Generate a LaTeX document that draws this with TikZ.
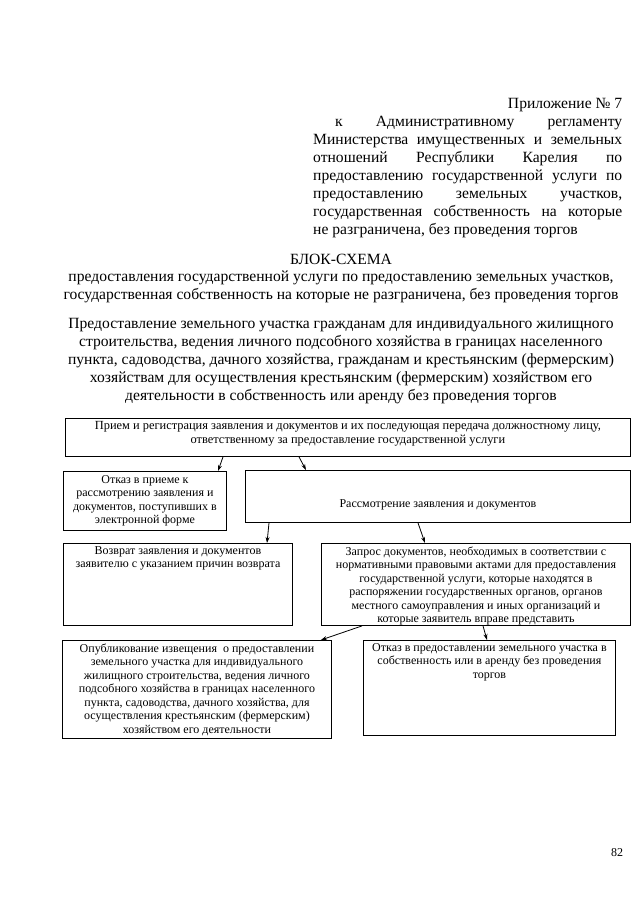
\documentclass[tikz,border=0pt]{standalone}
\usepackage{fontspec}
\setmainfont{Liberation Serif}
\usetikzlibrary{arrows.meta,positioning,calc}
\newcommand{\boxtext}[4][t]{\parbox[t][#3][#1]{#2}{\centering #4}}
\tikzset{
  blk/.style={rectangle,draw,line width=0.9pt,anchor=north west,inner sep=3pt,font=\fontsize{12}{13.5}\selectfont},
  hdr/.style={inner sep=0pt,font=\fontsize{15.6}{17.9}\selectfont},
  arr/.style={-{Stealth[length=6pt,width=4pt]},line width=0.8pt}
}
\begin{document}
\begin{tikzpicture}[x=1pt,y=-1pt]
  \useasboundingbox (0,0) rectangle (640,905);
  % header
  \node[hdr,anchor=north west,align=left] (appx) at (313,98.5) {%
    \makebox[309pt][r]{Приложение № 7}\\
    \makebox[309pt][s]{\hspace*{22pt}к\hfill Административному\hfill регламенту}\\
    \makebox[309pt][s]{Министерства имущественных и земельных}\\
    \makebox[309pt][s]{отношений\hfill Республики\hfill Карелия\hfill по}\\
    \makebox[309pt][s]{предоставлению государственной услуги по}\\
    \makebox[309pt][s]{предоставлению\hfill земельных\hfill участков,}\\
    \makebox[309pt][s]{государственная собственность на которые}\\
    не разграничена, без проведения торгов};
  \node[hdr,anchor=north,align=center] (title) at (341,253.5) {БЛОК-СХЕМА\\
    предоставления государственной услуги по предоставлению земельных участков,\\
    государственная собственность на которые не разграничена, без проведения торгов};
  \node[hdr,anchor=north,align=center] (subj) at (341,318.5) {Предоставление земельного участка гражданам для индивидуального жилищного\\
    строительства, ведения личного подсобного хозяйства в границах населенного\\
    пункта, садоводства, дачного хозяйства, гражданам и крестьянским (фермерским)\\
    хозяйствам для осуществления крестьянским (фермерским) хозяйством его\\
    деятельности в собственность или аренду без проведения торгов};
  % boxes
  \node[blk,font=\fontsize{12.4}{13.8}\selectfont] (recv) at (65,418) {\boxtext{559pt}{32pt}{Прием и регистрация заявления и документов и их последующая передача должностному лицу,\\ ответственному за предоставление государственной услуги}};
  \node[blk] (refuse) at (63,471) {\boxtext[c]{157pt}{53pt}{Отказ в приеме к\\ рассмотрению заявления и\\ документов, поступивших в\\ электронной форме}};
  \node[blk] (review) at (245,470) {\boxtext[c]{379pt}{46pt}{\vspace*{16pt}Рассмотрение заявления и документов}};
  \node[blk] (ret) at (63,543) {\boxtext{223pt}{76pt}{Возврат заявления и документов\\ заявителю с указанием причин возврата}};
  \node[blk] (query) at (321,543) {\boxtext{303pt}{76pt}{Запрос документов, необходимых в соответствии с\\ нормативными правовыми актами для предоставления\\ государственной услуги, которые находятся в\\ распоряжении государственных органов, органов\\ местного самоуправления и иных организаций и\\ которые заявитель вправе представить}};
  \node[blk] (publ) at (62,640) {\boxtext{263pt}{92pt}{Опубликование извещения\ \ о предоставлении\\ земельного участка для индивидуального\\ жилищного строительства, ведения личного\\ подсобного хозяйства в границах населенного\\ пункта, садоводства, дачного хозяйства, для\\ осуществления крестьянским (фермерским)\\ хозяйством его деятельности}};
  \node[blk] (deny) at (363,640) {\boxtext{246pt}{89pt}{Отказ в предоставлении земельного участка в\\ собственность или в аренду без проведения\\ торгов}};
  % arrows
  \draw[arr] ([xshift=158pt]recv.south west) -- ([xshift=155pt]refuse.north west);
  \draw[arr] ([xshift=234pt]recv.south west) -- ([xshift=61pt]review.north west);
  \draw[arr] ([xshift=24pt]review.south west) -- ([xshift=204pt]ret.north west);
  \draw[arr] ([xshift=173pt]review.south west) -- ([xshift=104pt]query.north west);
  \draw[arr] ([xshift=41pt]query.south west) -- ([xshift=-11pt]publ.north east);
  \draw[arr] ([xshift=162pt]query.south west) -- ([xshift=124pt]deny.north west);
  % page number
  \node[font=\fontsize{12}{14}\selectfont,inner sep=0pt] (pnum) at (617,853) {82};
\end{tikzpicture}
\end{document}
